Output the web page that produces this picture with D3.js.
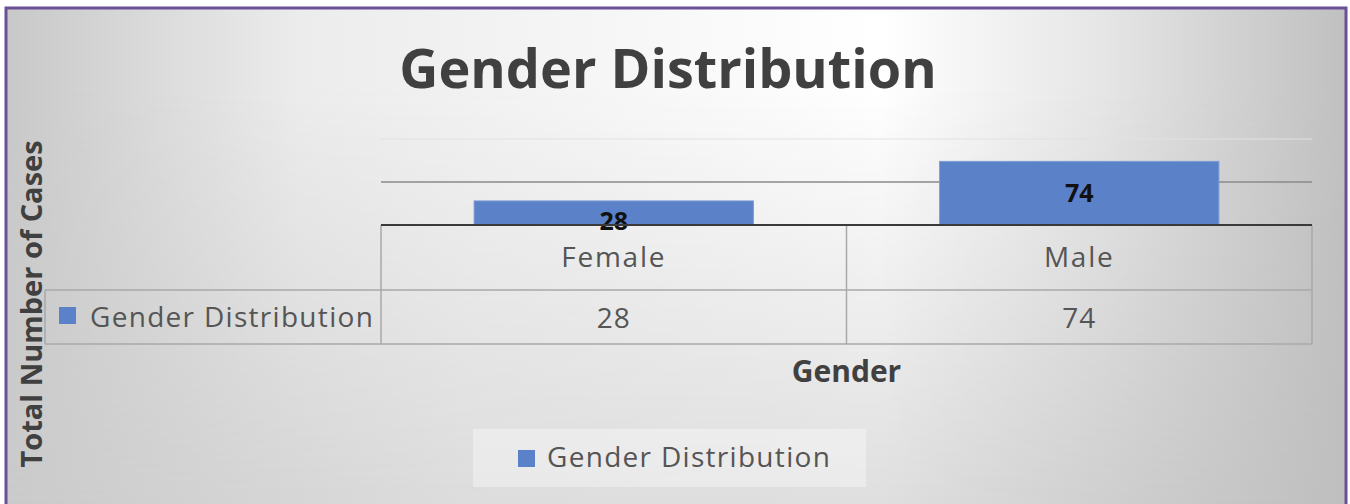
<!DOCTYPE html>
<html>
<head>
<meta charset="utf-8">
<script src="https://cdn.jsdelivr.net/npm/d3@7"></script>
<style>
  html, body { margin: 0; padding: 0; background: #ffffff; }
  svg { display: block; font-family: "Open Sans", sans-serif; }
</style>
</head>
<body>
<div id="chart-area"></div>
<script>
// data
const categories = ["Female", "Male"];
const values = [28, 74];
const seriesName = "Gender Distribution";
const yTicks = [0, 50, 100];

const chartTitle = "Gender Distribution";
const xTitle = "Gender";
const yTitle = "Total Number of Cases";

const W = 1350, H = 504;

// plot area
const plot = { left: 381, right: 1312, top: 139, bottom: 225 };
const rowH = [65, 54];   // table: header row, value row
const keyLeft = 45;

const svg = d3.select("#chart-area")
    .append("svg")
    .attr("width", W)
    .attr("height", H);

// background: two horizontal gradients (top / bottom) blended with a vertical mask
const defs = svg.append("defs");
const frame = { x: 6, y: 8, w: 1340, h: 500 };

function hGradient(id, stops) {
    const g = defs.append("linearGradient")
        .attr("id", id)
        .attr("gradientUnits", "userSpaceOnUse")
        .attr("x1", frame.x).attr("x2", frame.x + frame.w)
        .attr("y1", 0).attr("y2", 0);
    stops.forEach(s => g.append("stop")
        .attr("offset", (s[0] - frame.x) / frame.w)
        .attr("stop-color", s[1]));
}
hGradient("bgTop", [[6, "#c8c8c8"], [150, "#dadada"], [300, "#ececec"], [880, "#ffffff"], [1100, "#e6e6e6"], [1345, "#c0c0c0"]]);
hGradient("bgBottom", [[6, "#cbcbcb"], [470, "#dddddd"], [880, "#dfdfdf"], [1345, "#bfbfbf"]]);

const fade = defs.append("linearGradient")
    .attr("id", "fade")
    .attr("x1", 0).attr("y1", 0).attr("x2", 0).attr("y2", 1);
fade.append("stop").attr("offset", 0).attr("stop-color", "#ffffff");
fade.append("stop").attr("offset", 0.15).attr("stop-color", "#ffffff");
fade.append("stop").attr("offset", 1).attr("stop-color", "#000000");

defs.append("mask")
    .attr("id", "fadeMask")
    .append("rect")
    .attr("x", frame.x).attr("y", frame.y)
    .attr("width", frame.w).attr("height", frame.h)
    .attr("fill", "url(#fade)");

svg.append("rect")
    .attr("x", frame.x).attr("y", frame.y)
    .attr("width", frame.w).attr("height", frame.h)
    .attr("fill", "url(#bgBottom)");
svg.append("rect")
    .attr("x", frame.x).attr("y", frame.y)
    .attr("width", frame.w).attr("height", frame.h)
    .attr("fill", "url(#bgTop)")
    .attr("mask", "url(#fadeMask)");
svg.append("rect")
    .attr("x", frame.x).attr("y", frame.y)
    .attr("width", frame.w).attr("height", frame.h)
    .attr("fill", "none")
    .attr("stroke", "#6a5196")
    .attr("stroke-width", 3);

// title
svg.append("text")
    .attr("x", 668)
    .attr("y", 88)
    .attr("text-anchor", "middle")
    .attr("font-size", "54px")
    .attr("font-weight", "bold")
    .attr("fill", "#404040")
    .text(chartTitle);

// scales
const x = d3.scaleBand()
    .domain(categories)
    .range([plot.left, plot.right])
    .padding(0);

const y = d3.scaleLinear()
    .domain([0, 100])
    .range([plot.bottom, plot.top]);

const barW = x.bandwidth() * 0.6;

// gridlines
const gridColor = { 50: "#8a8a8a", 100: "#e2e2e2" };
svg.append("g")
    .selectAll("line")
    .data(yTicks.filter(d => d > 0))
    .join("line")
    .attr("x1", plot.left)
    .attr("x2", plot.right)
    .attr("y1", d => y(d))
    .attr("y2", d => y(d))
    .attr("stroke", d => gridColor[d])
    .attr("stroke-width", d => d === 50 ? 1.6 : 1.2);

// bars
svg.append("g")
    .selectAll("rect")
    .data(values)
    .join("rect")
    .attr("x", (d, i) => x(categories[i]) + (x.bandwidth() - barW) / 2)
    .attr("y", d => y(d))
    .attr("width", barW)
    .attr("height", d => y(0) - y(d))
    .attr("fill", "#5b81c9")
    .attr("stroke", "#7d9cd6")
    .attr("stroke-width", 1);

// data labels: centred in the bar, pushed down over the axis when the bar is short
function labelCenter(d) {
    const h = y(0) - y(d);
    return h < 30 ? y(0) - 4 : (y(d) + y(0)) / 2;
}
svg.append("g")
    .selectAll("text")
    .data(values)
    .join("text")
    .attr("x", (d, i) => x(categories[i]) + x.bandwidth() / 2)
    .attr("y", d => labelCenter(d) + 9)
    .attr("text-anchor", "middle")
    .attr("font-size", "25px")
    .attr("font-weight", "bold")
    .attr("fill", "#111111")
    .text(d => d);

// data table
const tableTop = plot.bottom;
const row1 = tableTop + rowH[0];
const row2 = row1 + rowH[1];
const table = svg.append("g")
    .attr("stroke", "#a8a8a8")
    .attr("stroke-width", 1.5)
    .attr("fill", "none");

// horizontal lines
table.append("line").attr("x1", keyLeft).attr("x2", plot.right).attr("y1", row1).attr("y2", row1);
table.append("line").attr("x1", keyLeft).attr("x2", plot.right).attr("y1", row2).attr("y2", row2);
// vertical lines
table.append("line").attr("x1", keyLeft).attr("x2", keyLeft).attr("y1", row1).attr("y2", row2);
table.selectAll("line.v")
    .data(categories.map(c => x(c)).concat([plot.right]))
    .join("line")
    .attr("class", "v")
    .attr("x1", d => d).attr("x2", d => d)
    .attr("y1", tableTop).attr("y2", row2);

// axis line
svg.append("line")
    .attr("x1", plot.left)
    .attr("x2", plot.right)
    .attr("y1", y(0))
    .attr("y2", y(0))
    .attr("stroke", "#3a3a3a")
    .attr("stroke-width", 2);

const cellFont = "28px";
const cellColor = "#555555";

svg.append("g")
    .selectAll("text")
    .data(categories)
    .join("text")
    .attr("x", d => x(d) + x.bandwidth() / 2)
    .attr("y", tableTop + 42)
    .attr("text-anchor", "middle")
    .attr("font-size", cellFont)
    .attr("letter-spacing", "1.8px")
    .attr("fill", cellColor)
    .text(d => d);

svg.append("g")
    .selectAll("text")
    .data(values)
    .join("text")
    .attr("x", (d, i) => x(categories[i]) + x.bandwidth() / 2)
    .attr("y", row1 + 38)
    .attr("text-anchor", "middle")
    .attr("font-size", cellFont)
    .attr("letter-spacing", "1px")
    .attr("fill", cellColor)
    .text(d => d);

// legend key in table
svg.append("rect")
    .attr("x", 59).attr("y", 307)
    .attr("width", 17).attr("height", 17)
    .attr("fill", "#5b81c9");
svg.append("text")
    .attr("x", 90)
    .attr("y", row1 + 37)
    .attr("font-size", cellFont)
    .attr("letter-spacing", "1.3px")
    .attr("fill", cellColor)
    .text(seriesName);

// axis titles
svg.append("text")
    .attr("x", (plot.left + plot.right) / 2)
    .attr("y", 382)
    .attr("text-anchor", "middle")
    .attr("font-size", "30px")
    .attr("font-weight", "bold")
    .attr("fill", "#404040")
    .text(xTitle);

svg.append("text")
    .attr("transform", "translate(42,304) rotate(-90)")
    .attr("text-anchor", "middle")
    .attr("font-size", "29px")
    .attr("font-weight", "bold")
    .attr("fill", "#404040")
    .text(yTitle);

// bottom legend
svg.append("rect")
    .attr("x", 473).attr("y", 429)
    .attr("width", 393).attr("height", 58)
    .attr("fill", "#ffffff")
    .attr("fill-opacity", 0.35);
svg.append("rect")
    .attr("x", 518).attr("y", 450)
    .attr("width", 17).attr("height", 17)
    .attr("fill", "#5b81c9");
svg.append("text")
    .attr("x", 547)
    .attr("y", 467)
    .attr("font-size", cellFont)
    .attr("letter-spacing", "1.3px")
    .attr("fill", cellColor)
    .text(seriesName);
</script>
</body>
</html>
